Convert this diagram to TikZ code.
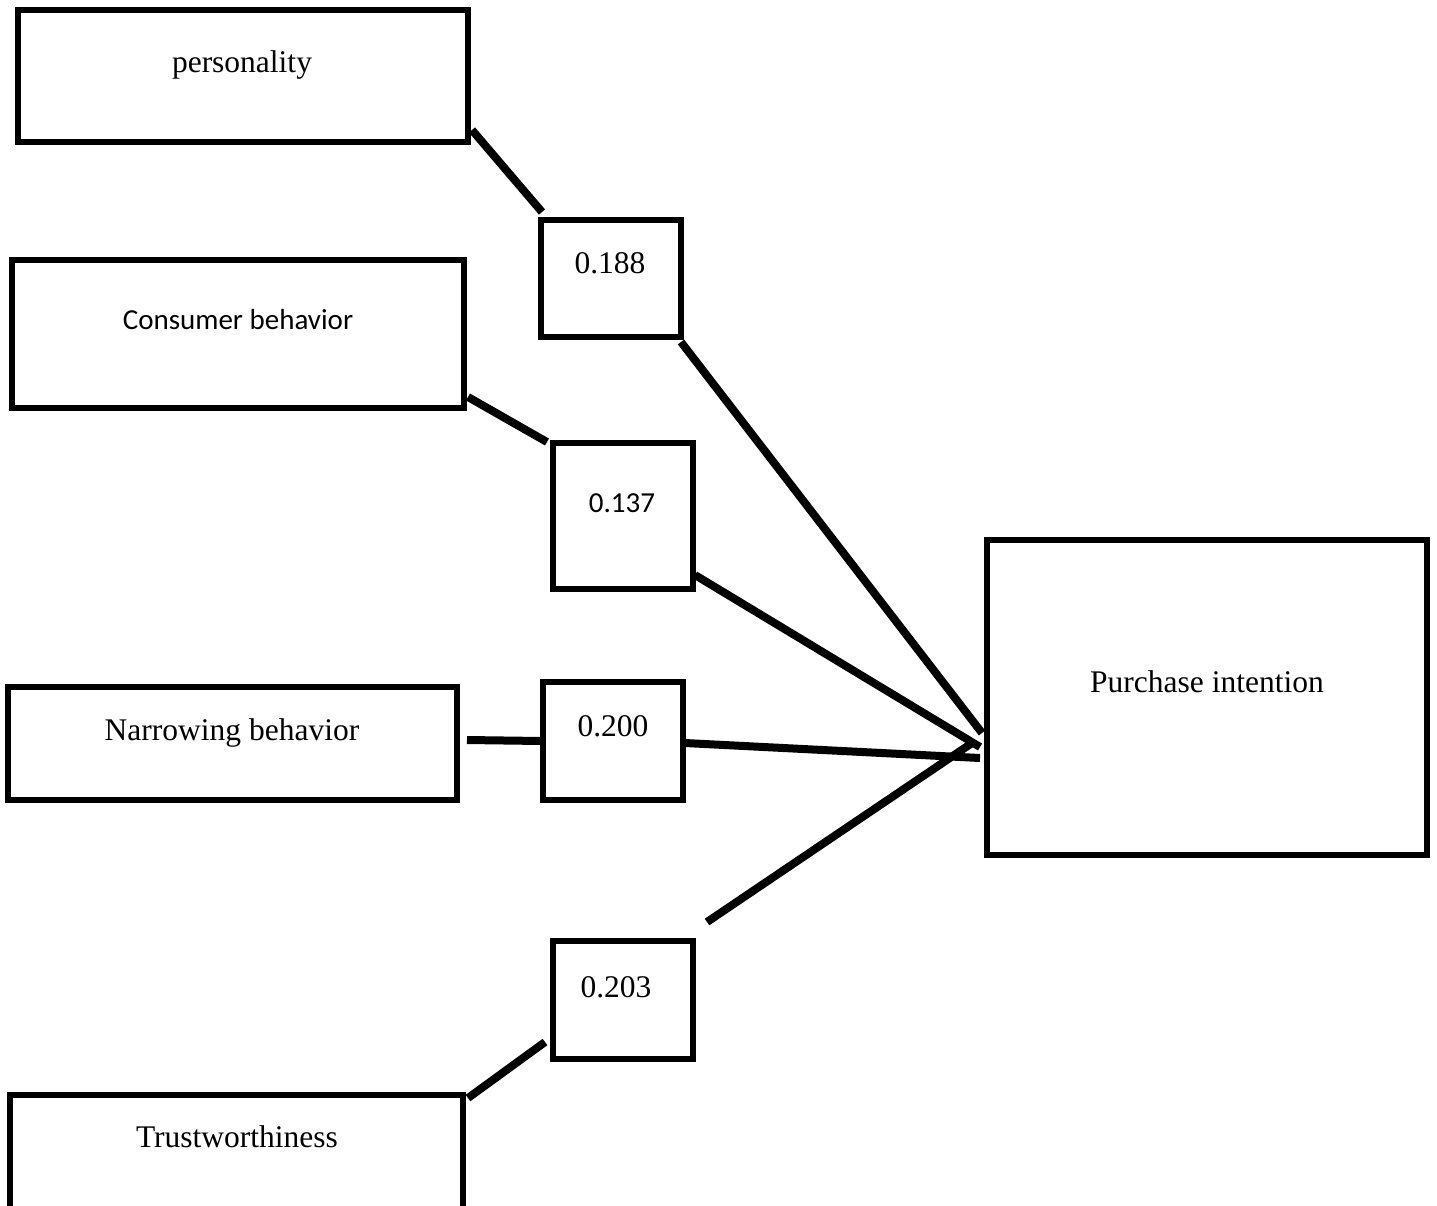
\documentclass[tikz,border=0pt]{standalone}
\usepackage{fontspec}
\setmainfont{Liberation Serif}
\newfontfamily\calib{Carlito}
\usetikzlibrary{calc}
\tikzset{
  box/.style={draw=black, line width=5.5pt, inner sep=0pt, outer sep=0pt, anchor=north west, fill=white},
  lbl/.style={anchor=base, inner sep=0pt, font=\fontsize{31.5}{38}\selectfont},
  slbl/.style={anchor=base, inner sep=0pt, font=\calib\fontsize{29}{35}\selectfont},
  conn/.style={line width=8pt, draw=black}
}
\begin{document}
\begin{tikzpicture}[x=1pt,y=-1pt]
\useasboundingbox (0,0) rectangle (1437,1205);
\clip (0,0) rectangle (1437,1205);
\fill[white] (0,0) rectangle (1437,1205);
% boxes
\node[box, minimum width=450pt, minimum height=132pt] (per) at (18,10) {};
\node[box, minimum width=452pt, minimum height=148pt] (con) at (12,260) {};
\node[box, minimum width=449pt, minimum height=113pt] (nar) at (8,687) {};
\node[box, minimum width=453pt, minimum height=140pt] (tru) at (10,1095) {};
\node[box, minimum width=440pt, minimum height=315pt] (pi) at (987,540) {};
\node[box, minimum width=140pt, minimum height=117pt] (v1) at (541,220) {};
\node[box, minimum width=140pt, minimum height=146pt] (v2) at (553,443) {};
\node[box, minimum width=140pt, minimum height=118pt] (v3) at (543,682) {};
\node[box, minimum width=140pt, minimum height=118pt] (v4) at (553,941) {};
% texts
\node[lbl] (tper) at (242,72) {personality};
\node[slbl] (tcon) at (238,329) {Consumer behavior};
\node[lbl] (tnar) at (232,740) {Narrowing behavior};
\node[lbl] (ttru) at (237,1147) {Trustworthiness};
\node[lbl] (tpi) at (1207,692) {Purchase intention};
\node[lbl] (t1) at (610,273) {0.188};
\node[slbl] (t2) at (622,512) {0.137};
\node[lbl] (t3) at (613,736) {0.200};
\node[lbl] (t4) at (616,997) {0.203};
% connectors
\draw[conn] ($(per.south east)+(4,-12)$) -- ($(v1.north west)+(1,-8)$);
\draw[conn] ($(v1.south east)+(0,5)$) -- ($(pi.west)+(-5,35.5)$);
\draw[conn] ($(con.south east)+(4,-11)$) -- ($(v2.north west)+(-6,-1)$);
\draw[conn] ($(v2.south east)+(2,-14)$) -- ($(pi.west)+(-7,49.5)$);
\draw[conn] ($(nar.east)+(10,-3.5)$) -- ($(v3.west)+(-1,0)$);
\draw[conn] ($(v3.east)+(2,2)$) -- ($(pi.west)+(-7,60.5)$);
\draw[conn] ($(tru.north east)+(5,3)$) -- ($(v4.south west)+(-8,-17)$);
\draw[conn] ($(v4.north east)+(14,-19)$) -- ($(pi.west)+(-15,45.5)$);
\end{tikzpicture}
\end{document}
